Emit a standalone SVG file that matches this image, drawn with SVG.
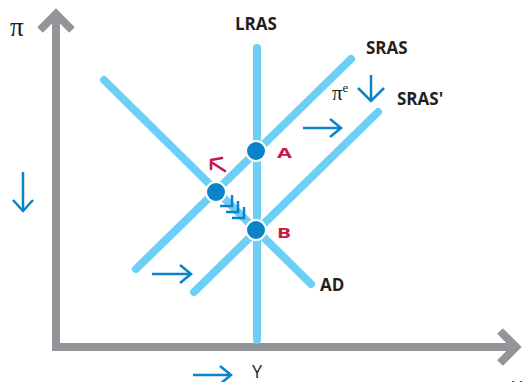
<svg xmlns="http://www.w3.org/2000/svg" width="524" height="382" viewBox="0 0 524 382">
<style>
.axis{stroke:#939598;stroke-width:8;fill:none}
.curve{stroke:#6DCFF6;stroke-width:8;stroke-linecap:round;fill:none}
.arr{stroke:#0A83C9;stroke-width:2.5;fill:none;stroke-linecap:butt}
.pt{fill:#0A83C9;stroke:#fff;stroke-width:2}
.lbl{font-family:"Open Sans","Noto Sans",sans-serif;font-weight:bold;font-size:17px;fill:#231F20}
.sym{font-family:"Liberation Serif","DejaVu Serif",serif;fill:#231F20}
.red{stroke:#C8174B;stroke-width:2.6;fill:none;stroke-linecap:round;stroke-linejoin:round}
.redt{font-family:"Open Sans",sans-serif;font-weight:bold;font-size:15px;fill:#C8174B}
</style>
<rect width="524" height="382" fill="#fff"/>
<g id="axes">
<polyline class="axis" points="56,20 56,347 518,347"/>
<polyline class="axis" points="40,30 56,14 72,30"/>
<polyline class="axis" points="500,331 516,347 500,363"/>
<text class="sym" x="10" y="36" font-size="27">π</text>
<text x="252" y="378" font-family="Open Sans,sans-serif" font-size="18" fill="#231F20">Y</text>
<text x="512" y="394" font-family="Open Sans,sans-serif" font-size="18" fill="#231F20">Y</text>
</g>
<g id="connectors">
<line id="LRAS-line" class="curve" x1="257" y1="48" x2="257" y2="340"/>
<line id="AD-line" class="curve" x1="104" y1="80" x2="311" y2="284"/>
<line id="SRAS-line" class="curve" x1="136" y1="269" x2="351" y2="59"/>
<line id="SRAS2-line" class="curve" x1="194" y1="292" x2="378" y2="112"/>
</g>
<g id="labels">
<text class="lbl" x="235" y="30">LRAS</text>
<text class="lbl" x="366" y="54">SRAS</text>
<text class="lbl" x="397" y="105">SRAS'</text>
<text class="lbl" x="320" y="291">AD</text>
<text class="sym" x="332" y="100" font-size="21">π<tspan font-size="13" dy="-8">e</tspan></text>
</g>
<g id="arrows">
<g id="arrow-pie-down"><line x1="371" y1="75" x2="371" y2="100" class="arr" stroke-width="4"/><polyline points="358,88 371,101 384,88" class="arr" stroke-width="4"/></g>
<g id="arrow-right-1"><line x1="303" y1="128" x2="341" y2="128" class="arr"/><polyline points="330,119 341,128 330,137" class="arr"/></g>
<g id="arrow-right-2"><line x1="152" y1="274" x2="191" y2="274" class="arr"/><polyline points="180,265 191,274 180,283" class="arr"/></g>
<g id="arrow-right-3"><line x1="193" y1="375" x2="231" y2="375" class="arr"/><polyline points="220,366 231,375 220,384" class="arr"/></g>
<g id="arrow-down-left"><line x1="23" y1="172" x2="23" y2="211" class="arr"/><polyline points="13,200 23,211 33,200" class="arr"/></g>
<g id="triple-arrow">
<polyline points="220,206 232,206 232,195" class="arr" stroke-width="3"/>
<polyline points="226,212 238,212 238,201" class="arr" stroke-width="3"/>
<polyline points="232,218 244,218 244,207" class="arr" stroke-width="3"/>
</g>
<g id="red-arrow"><path class="red" d="M211,169 L211,160 L222,158 M211,162 L225,171"/></g>
</g>
<g id="A"><circle class="pt" cx="256" cy="151" r="10"/><text class="redt" x="277" y="158" textLength="15" lengthAdjust="spacingAndGlyphs">A</text></g>
<g id="C"><circle class="pt" cx="216" cy="192" r="10"/></g>
<g id="B"><circle class="pt" cx="256" cy="230" r="10"/><text class="redt" x="277" y="238" textLength="14" lengthAdjust="spacingAndGlyphs">B</text></g>
</svg>
